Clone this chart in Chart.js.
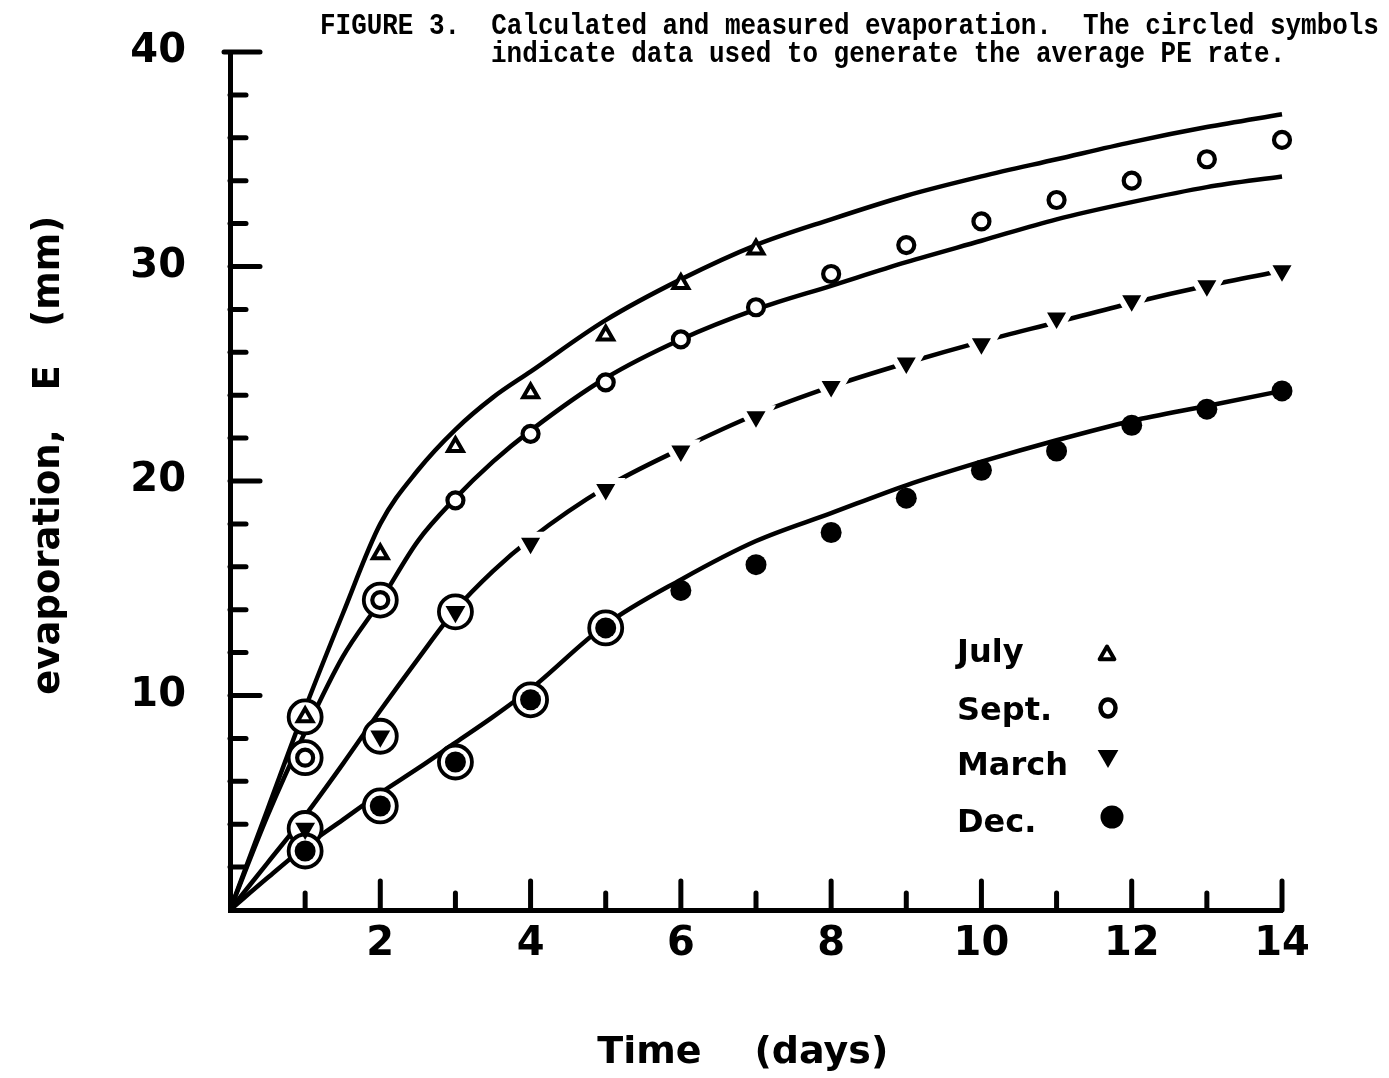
<!DOCTYPE html>
<html><head><meta charset="utf-8">
<script src="https://cdn.jsdelivr.net/npm/chart.js@4.4.0/dist/chart.umd.min.js"></script>
<style>html,body{margin:0;padding:0;background:#fff;overflow:hidden}canvas{display:block}</style>
</head><body>
<canvas id="c" width="1389" height="1078"></canvas>
<script>
// ---- data ----
const julyDays = [1, 2, 3, 4, 5, 6, 7];
const allDays = [1, 2, 3, 4, 5, 6, 7, 8, 9, 10, 11, 12, 13, 14];
const julyMeasured  = [9.0, 16.6, 21.6, 24.1, 26.8, 29.2, 30.8];
const septMeasured  = [7.1, 14.45, 19.1, 22.2, 24.6, 26.6, 28.1, 29.65, 31.0, 32.1, 33.1, 34.0, 35.0, 35.9];
const marchMeasured = [3.8, 8.1, 13.9, 17.1, 19.6, 21.4, 23.0, 24.4, 25.5, 26.4, 27.6, 28.4, 29.1, 29.8];
const decMeasured   = [2.75, 4.85, 6.9, 9.8, 13.15, 14.9, 16.1, 17.6, 19.2, 20.5, 21.4, 22.6, 23.35, 24.2];

const curveDays = [0, 0.5, 1, 1.5, 2, 2.5, 3, 3.5, 4, 5, 6, 7, 8, 9, 10, 11, 12, 13, 14];
const julyCalc  = [0, 4.7, 9.4, 13.8, 18.0, 20.5, 22.4, 23.9, 25.1, 27.5, 29.4, 31.0, 32.2, 33.3, 34.2, 35.0, 35.8, 36.5, 37.1];
const septCalc  = [0, 4.4, 8.3, 11.8, 14.4, 17.2, 19.2, 20.9, 22.35, 24.8, 26.6, 28.0, 29.1, 30.2, 31.2, 32.2, 33.0, 33.7, 34.2];
const marchCalc = [0, 2.2, 4.4, 6.8, 9.3, 11.7, 14.0, 15.8, 17.3, 19.7, 21.5, 23.1, 24.4, 25.5, 26.5, 27.4, 28.3, 29.1, 29.8];
const decCalc   = [0, 1.5, 2.95, 4.2, 5.45, 6.6, 7.8, 9.0, 10.3, 13.3, 15.4, 17.2, 18.5, 19.8, 20.9, 21.9, 22.8, 23.5, 24.2];

// days whose symbols are circled (used for the average PE rate)
const circledJuly  = [1];
const circledSept  = [1, 2];
const circledMarch = [1, 2, 3];
const circledDec   = [1, 2, 3, 4, 5];

const xTickLabels = [2, 4, 6, 8, 10, 12, 14];
const yTickLabels = [10, 20, 30, 40];
const legendLabels = ['July', 'Sept.', 'March', 'Dec.'];
const captionLines = [
  'FIGURE 3.  Calculated and measured evaporation.  The circled symbols',
  'indicate data used to generate the average PE rate.'
];
const xTitle = 'Time    (days)  ';
const yTitle = '    evaporation,   E   (mm)';

// ---- build ----
const pts = (xs, ys) => xs.map((x, i) => ({x: x, y: ys[i]}));
const pick = (days, xs, ys) => days.map(d => ({x: d, y: ys[xs.indexOf(d)]}));

const ringPoints = [].concat(
  pick(circledJuly, julyDays, julyMeasured),
  pick(circledSept, allDays, septMeasured),
  pick(circledMarch, allDays, marchMeasured),
  pick(circledDec, allDays, decMeasured)
);

const curve = (ys) => ({
  data: pts(curveDays, ys), showLine: true, borderColor: '#000', borderWidth: 4.5,
  pointRadius: 0, cubicInterpolationMode: 'monotone', fill: false, clip: false
});

const decor = {
  id: 'decor',
  afterDraw(chart) {
    const ctx = chart.ctx, x = chart.scales.x, y = chart.scales.y, ca = chart.chartArea;
    ctx.save();
    ctx.strokeStyle = '#000'; ctx.fillStyle = '#000';
    ctx.lineWidth = 5; ctx.lineCap = 'round';
    const seg = (x1, y1, x2, y2) => { ctx.beginPath(); ctx.moveTo(x1, y1); ctx.lineTo(x2, y2); ctx.stroke(); };
    for (let v = 2; v <= 40; v += 2) {
      const py = y.getPixelForValue(v);
      const len = v % 10 === 0 ? 30 : 16;
      seg(v === 40 ? ca.left - 6 : ca.left, py, ca.left + len, py);
    }
    for (let v = 1; v <= 14; v++) {
      const px = x.getPixelForValue(v);
      const len = v % 2 === 0 ? 29 : 17;
      seg(px, ca.bottom, px, ca.bottom - len);
    }
    // caption
    ctx.font = 'bold 30px "Liberation Mono"';
    ctx.textBaseline = 'alphabetic'; ctx.textAlign = 'left';
    const cap = [[320, 34], [491, 62]];
    captionLines.forEach((t, i) => {
      ctx.save(); ctx.translate(cap[i][0], cap[i][1]); ctx.scale(0.865, 1);
      ctx.fillText(t, 0, 0); ctx.restore();
    });
    // legend
    ctx.font = 'bold 32px "DejaVu Sans"';
    const base = [662, 720, 775, 832];
    legendLabels.forEach((t, i) => ctx.fillText(t, 957, base[i]));
    const tri = (cx, cy, r, down) => {
      ctx.beginPath();
      for (let k = 0; k < 3; k++) {
        const a = (down ? Math.PI : 0) + k * 2 * Math.PI / 3;
        const px = cx + Math.sin(a) * r, py = cy - Math.cos(a) * r;
        k ? ctx.lineTo(px, py) : ctx.moveTo(px, py);
      }
      ctx.closePath();
    };
    ctx.lineCap = 'butt'; ctx.lineJoin = 'round';
    ctx.lineWidth = 4; ctx.fillStyle = '#fff';
    tri(1107, 655, 8.5, false); ctx.fill(); ctx.stroke();
    ctx.lineWidth = 4.5;
    ctx.beginPath(); ctx.ellipse(1108, 708, 7.5, 8.5, 0, 0, Math.PI * 2); ctx.fill(); ctx.stroke();
    ctx.fillStyle = '#000';
    tri(1108, 756, 12, true); ctx.fill();
    ctx.beginPath(); ctx.arc(1112, 817, 11.5, 0, Math.PI * 2); ctx.fill();
    ctx.restore();
  }
};

new Chart(document.getElementById('c'), {
  type: 'scatter',
  data: {
    datasets: [
      {label: 'July', data: pts(julyDays, julyMeasured), pointStyle: 'triangle', pointRadius: 8.5,
       pointBorderWidth: 4, pointBackgroundColor: '#fff', pointBorderColor: '#000', clip: false},
      {label: 'Sept.', data: pts(allDays, septMeasured), pointStyle: 'circle', pointRadius: 8,
       pointBorderWidth: 4.2, pointBackgroundColor: '#fff', pointBorderColor: '#000', clip: false},
      {label: 'March', data: pts(allDays, marchMeasured), pointStyle: 'triangle', pointRotation: 180,
       pointRadius: c => circledMarch.includes(c.raw.x) ? 11.5 : 17,
       pointBorderWidth: c => circledMarch.includes(c.raw.x) ? 0 : 6,
       pointBackgroundColor: '#000', pointBorderColor: '#fff', clip: false},
      {label: 'Dec.', data: pts(allDays, decMeasured), pointStyle: 'circle', pointRadius: 10.5,
       pointBorderWidth: 0, pointBackgroundColor: '#000', clip: false},
      {label: 'circled', data: ringPoints, pointStyle: 'circle', pointRadius: 16.5,
       pointBorderWidth: 3.8, pointBackgroundColor: '#fff', pointBorderColor: '#000', clip: false},
      curve(julyCalc), curve(septCalc), curve(marchCalc), curve(decCalc)
    ]
  },
  options: {
    responsive: false, animation: false, events: [], devicePixelRatio: 1,
    layout: {padding: {left: 0, right: 107, top: 52, bottom: 0}},
    plugins: {legend: {display: false}, tooltip: {enabled: false}, title: {display: false}},
    scales: {
      x: {
        type: 'linear', min: 0, max: 14,
        afterFit: s => { s.height = 168; s.paddingLeft = 0; s.paddingRight = 0; },
        grid: {display: false, drawTicks: false},
        border: {display: true, color: '#000', width: 5},
        ticks: {stepSize: 2, autoSkip: false, maxRotation: 0, padding: 11, color: '#000',
          font: {family: 'DejaVu Sans', weight: 'bold', size: 40},
          callback: v => xTickLabels.includes(v) ? String(v) : ''},
        title: {display: true, text: xTitle, color: '#000', padding: {top: 0, bottom: 2},
          font: {family: 'DejaVu Sans', weight: 'bold', size: 38}}
      },
      y: {
        type: 'linear', min: 0, max: 40,
        afterFit: s => { s.width = 230; s.paddingTop = 0; s.paddingBottom = 0; },
        grid: {display: false, drawTicks: false},
        border: {display: true, color: '#000', width: 5},
        ticks: {stepSize: 10, padding: 44, color: '#000',
          font: {family: 'DejaVu Sans', weight: 'bold', size: 40},
          callback: v => yTickLabels.includes(v) ? String(v) : ''},
        title: {display: true, text: yTitle, color: '#000', padding: {top: 27, bottom: 0},
          font: {family: 'DejaVu Sans', weight: 'bold', size: 37}}
      }
    }
  },
  plugins: [decor]
});
</script>
</body></html>
